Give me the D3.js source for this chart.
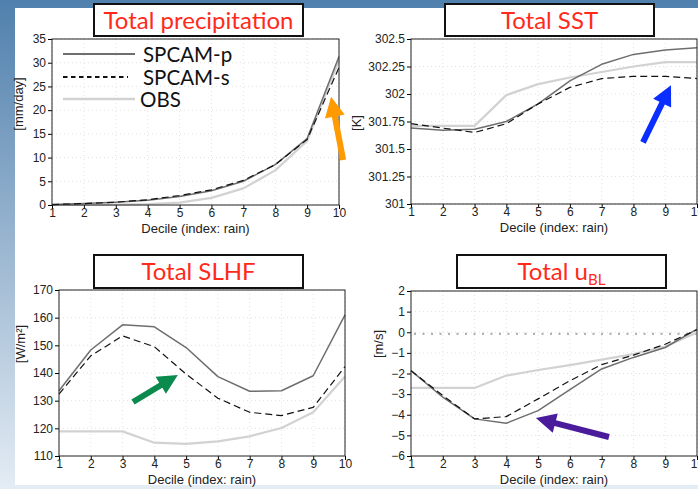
<!DOCTYPE html>
<html><head><meta charset="utf-8">
<script src="https://cdn.jsdelivr.net/npm/d3@7"></script>
<style>
html,body{margin:0;padding:0;overflow:hidden;}
svg{display:block;}
</style></head>
<body>
<svg id="c" width="698" height="489"></svg>
<script>
const deciles = [1,2,3,4,5,6,7,8,9,10];
const seriesNames = ["SPCAM-p","SPCAM-s","OBS"];

const precipP = [0.1,0.3,0.6,1.0,1.8,3.0,5.0,8.5,14.0,31.3];
const precipS = [0.1,0.3,0.6,1.1,2.0,3.2,5.2,8.5,13.8,29.0];
const precipO = [0.0,0.0,0.1,0.2,0.5,1.5,3.5,7.3,13.5,30.5];

const sstP = [301.69,301.67,301.68,301.75,301.91,302.12,302.27,302.36,302.40,302.42];
const sstS = [301.73,301.69,301.65,301.73,301.91,302.06,302.14,302.16,302.16,302.14];
const sstO = [301.71,301.71,301.71,301.99,302.09,302.15,302.20,302.25,302.29,302.29];

const slhfP = [133.6,148.3,157.4,156.7,149.2,138.7,133.4,133.6,139.0,161.0];
const slhfS = [132.4,146.2,153.4,149.5,139.6,130.9,125.8,124.6,127.6,142.3];
const slhfO = [118.9,118.9,118.9,114.8,114.4,115.3,117.1,120.1,125.8,138.7];

const ublP = [-1.86,-3.15,-4.20,-4.41,-3.80,-2.78,-1.78,-1.22,-0.74,0.15];
const ublS = [-1.86,-3.07,-4.20,-4.09,-3.23,-2.35,-1.57,-1.11,-0.58,0.12];
const ublO = [-2.70,-2.70,-2.70,-2.10,-1.83,-1.59,-1.33,-1.06,-0.69,-0.01];

const precipTicks = [0,5,10,15,20,25,30,35];
const sstTicks = [301,301.25,301.5,301.75,302,302.25,302.5];
const sstTickLabels = ["301","301.25","301.5","301.75","302","302.25","302.5"];
const slhfTicks = [110,120,130,140,150,160,170];
const ublTicks = [-6,-5,-4,-3,-2,-1,0,1,2];
const ublTickLabels = ["\u22126","\u22125","\u22124","\u22123","\u22122","\u22121","0","1","2"];

const svg = d3.select("#c");
// background gradient
const defs = svg.append("defs");
const grad = defs.append("linearGradient").attr("id","bg").attr("x1",0).attr("y1",0).attr("x2",0).attr("y2",1);
grad.append("stop").attr("offset","0%").attr("stop-color","#5080ad");
grad.append("stop").attr("offset","100%").attr("stop-color","#e4ecf4");
svg.append("rect").attr("width",698).attr("height",489).attr("fill","url(#bg)");
svg.append("rect").attr("x",15).attr("y",8).attr("width",683).attr("height",477).attr("fill","#ffffff");

const styles = [
  {stroke:"#6e6e6e", width:1.5, dash:null},
  {stroke:"#111111", width:1.2, dash:"7,4"},
  {stroke:"#d2d2d2", width:2.2, dash:null}
];

function panel(cfg){
  const g = svg.append("g");
  const x = d3.scaleLinear().domain([1,10]).range([cfg.l,cfg.r]);
  const y = d3.scaleLinear().domain(cfg.ydom).range([cfg.b,cfg.t]);
  // grid
  g.append("g").selectAll("line").data(cfg.yticks).join("line")
    .attr("x1",cfg.l).attr("x2",cfg.r).attr("y1",d=>y(d)).attr("y2",d=>y(d))
    .attr("stroke","#dadada").attr("stroke-width",0.8).attr("stroke-dasharray","1,3");
  g.append("g").selectAll("line").data(deciles).join("line")
    .attr("y1",cfg.t).attr("y2",cfg.b).attr("x1",d=>x(d)).attr("x2",d=>x(d))
    .attr("stroke","#dadada").attr("stroke-width",0.8).attr("stroke-dasharray","1,3");
  if(cfg.zero!==undefined){
    g.append("line").attr("x1",cfg.l+3).attr("x2",cfg.r).attr("y1",y(cfg.zero)).attr("y2",y(cfg.zero))
      .attr("stroke","#b0b0b0").attr("stroke-width",2.2).attr("stroke-dasharray","2,6.5");
  }
  // lines
  const line = d3.line().x((d,i)=>x(deciles[i])).y(d=>y(d));
  const order = [2,0,1];
  order.forEach(k=>{
    const s = styles[k];
    g.append("path").datum(cfg.series[k]).attr("d",line).attr("fill","none")
      .attr("stroke",s.stroke).attr("stroke-width",s.width)
      .attr("stroke-dasharray",s.dash).attr("stroke-linejoin","round");
  });
  // axes
  const ax = g.append("g").attr("transform",`translate(0,${cfg.b})`)
    .call(d3.axisBottom(x).tickValues(deciles).tickFormat(d3.format("d")).tickSizeInner(4).tickSizeOuter(0));
  const ay = g.append("g").attr("transform",`translate(${cfg.l},0)`)
    .call(d3.axisLeft(y).tickValues(cfg.yticks).tickFormat((d,i)=>cfg.ylabels?cfg.ylabels[i]:d).tickSizeInner(4).tickSizeOuter(0));
  [ax,ay].forEach(a=>{
    a.select(".domain").remove();
    a.selectAll("line").attr("stroke","#000").attr("stroke-width",1);
    a.selectAll("text").attr("font-family","Liberation Sans, Arial, sans-serif").attr("font-size",12).attr("fill","#222");
  });
  ax.selectAll("text").attr("dy","0.6em").attr("y",5);
  ay.selectAll("text").attr("x",-6);
  g.append("rect").attr("x",cfg.l).attr("y",cfg.t).attr("width",cfg.r-cfg.l).attr("height",cfg.b-cfg.t)
    .attr("fill","none").attr("stroke","#222").attr("stroke-width",1);
  // axis labels
  g.append("text").attr("x",(cfg.l+cfg.r)/2).attr("y",cfg.b+28).attr("text-anchor","middle")
    .attr("font-family","Liberation Sans, Arial, sans-serif").attr("font-size",13).attr("fill","#222")
    .text("Decile (index: rain)");
  g.append("text").attr("transform",`translate(${cfg.ylx},${cfg.yly}) rotate(-90)`).attr("text-anchor","middle")
    .attr("font-family","Liberation Sans, Arial, sans-serif").attr("font-size",13).attr("fill","#222")
    .attr("dy","0.35em").text(cfg.ylab);
  // title
  g.append("rect").attr("x",cfg.tb[0]).attr("y",cfg.tb[1]).attr("width",cfg.tb[2]).attr("height",cfg.tb[3])
    .attr("fill","#fff").attr("stroke","#111").attr("stroke-width",2);
  const tt = g.append("text").attr("x",cfg.tb[0]+cfg.tb[2]/2).attr("y",cfg.tb[1]+cfg.tb[3]/2+8.5)
    .attr("text-anchor","middle").attr("font-family","Lato, 'Open Sans', sans-serif").attr("font-size",24)
    .attr("fill","#ff2a1a");
  tt.append("tspan").text(cfg.title);
  if(cfg.sub){ tt.append("tspan").attr("font-size",15).attr("dy",5).text(cfg.sub); }
  // arrow
  if(cfg.arrow){
    const a = cfg.arrow;
    const x0=x(a.from[0]), y0=y(a.from[1]), x1=x(a.to[0]), y1=y(a.to[1]);
    const dx=x1-x0, dy=y1-y0, L=Math.hypot(dx,dy), ux=dx/L, uy=dy/L, px=-uy, py=ux;
    const hl=20, hw=10, sw=3;
    const bx=x1-ux*hl, by=y1-uy*hl;
    const pts=[[x0+px*sw,y0+py*sw],[bx+px*sw,by+py*sw],[bx+px*hw,by+py*hw],[x1,y1],
               [bx-px*hw,by-py*hw],[bx-px*sw,by-py*sw],[x0-px*sw,y0-py*sw]];
    g.append("polygon").attr("points",pts.map(p=>p.join(",")).join(" ")).attr("fill",a.color);
  }
  return {g,x,y};
}

const p1 = panel({l:52,r:339,t:39,b:205,ydom:[0,35],yticks:precipTicks,
  series:[precipP,precipS,precipO],ylab:"[mm/day]",ylx:18,yly:104,
  tb:[94,4,209,32],title:"Total precipitation",
  arrow:{from:[10.13,9.5],to:[9.75,22.8],color:"#ff9a00"}});
const p2 = panel({l:411,r:697,t:39,b:204,ydom:[301,302.5],yticks:sstTicks,ylabels:sstTickLabels,
  series:[sstP,sstS,sstO],ylab:"[K]",ylx:356,yly:123,
  tb:[445,4,209,32],title:"Total SST",
  arrow:{from:[8.30,301.56],to:[9.18,302.08],color:"#0a2eff"}});
const p3 = panel({l:59,r:345,t:290,b:456,ydom:[110,170],yticks:slhfTicks,
  series:[slhfP,slhfS,slhfO],ylab:"[W/m\u00b2]",ylx:20,yly:344,
  tb:[94,255,209,33],title:"Total SLHF",
  arrow:{from:[3.33,129.5],to:[4.74,139.3],color:"#0a8a4c"}});
const p4 = panel({l:411,r:697,t:291,b:456,ydom:[-6,2],yticks:ublTicks,ylabels:ublTickLabels,
  series:[ublP,ublS,ublO],ylab:"[m/s]",ylx:378,yly:344,zero:-0.08,
  tb:[457,255,209,33],title:"Total u",sub:"BL",
  arrow:{from:[7.23,-5.08],to:[4.93,-4.16],color:"#4a1c9c"}});

// legend in panel 1
const leg = svg.append("g");
const legY = [54,77,99];
seriesNames.forEach((n,i)=>{
  const s = styles[i];
  leg.append("line").attr("x1",63).attr("x2",i===1?128:135).attr("y1",legY[i]).attr("y2",legY[i])
    .attr("stroke",s.stroke).attr("stroke-width",i===1?2:s.width+0.3)
    .attr("stroke-dasharray",i===1?"4.5,3.5":null);
  leg.append("text").attr("x",i===2?140:143).attr("y",legY[i]+7.5).attr("font-family","Lato, 'Open Sans', sans-serif")
    .attr("font-size",20.5).attr("fill","#111").text(n);
});
</script>
</body></html>
